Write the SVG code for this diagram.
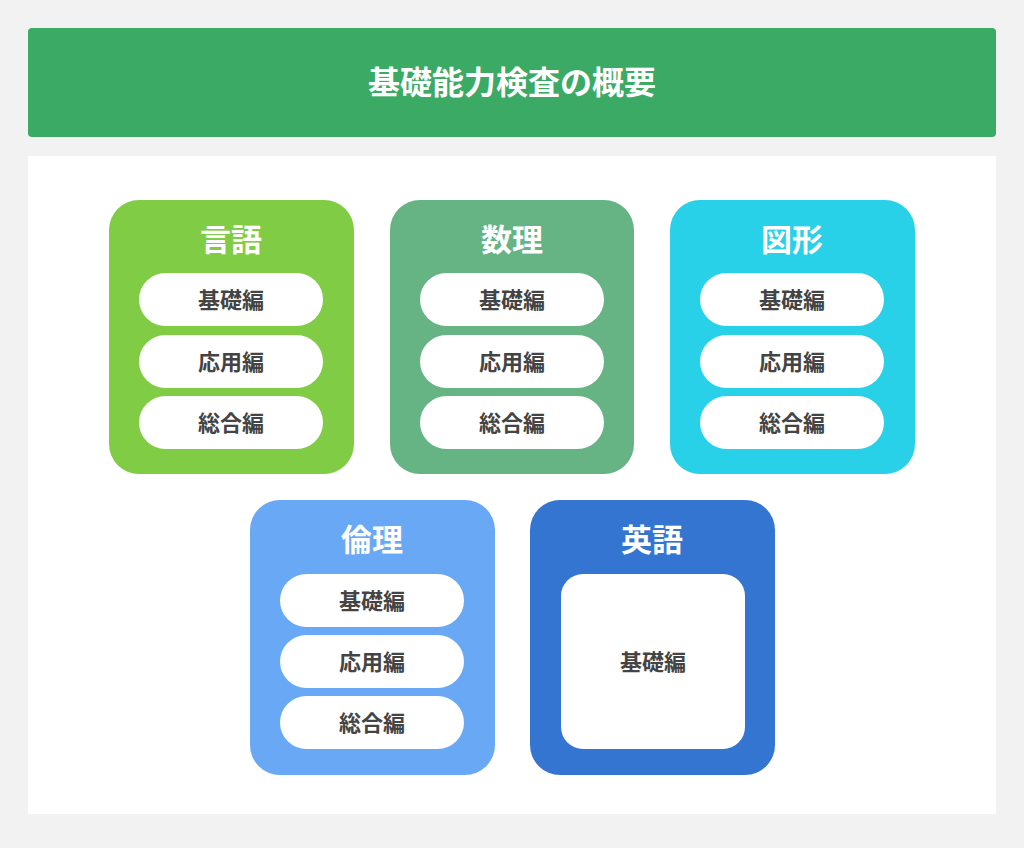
<svg xmlns="http://www.w3.org/2000/svg" width="1024" height="848" viewBox="0 0 1024 848">
<style>
text{font-family:"Noto Sans CJK JP","Noto Sans",sans-serif;font-weight:bold;text-anchor:middle}
.t{fill:#fff;font-size:31px}
.p{fill:#fff}
.l{fill:#444;font-size:22px}
</style>
<rect width="1024" height="848" fill="#f2f2f2"/>
<g id="header"><rect x="28" y="28" width="968" height="109" rx="4" fill="#3aaa64"/>
<text x="512" y="94" fill="#fff" font-size="32">基礎能力検査の概要</text></g>
<rect x="28" y="156" width="968" height="658" fill="#fff"/>
<g id="gengo"><rect x="109" y="200" width="245" height="274" rx="30" fill="#80cc44"/>
<text class="t" x="231" y="251">言語</text>
<rect class="p" x="139" y="273" width="184" height="53" rx="26.5"/><text class="l" x="231" y="308">基礎編</text>
<rect class="p" x="139" y="335" width="184" height="53" rx="26.5"/><text class="l" x="231" y="370">応用編</text>
<rect class="p" x="139" y="396" width="184" height="53" rx="26.5"/><text class="l" x="231" y="431">総合編</text></g>
<g id="suri"><rect x="390" y="200" width="244" height="274" rx="30" fill="#66b383"/>
<text class="t" x="512" y="251">数理</text>
<rect class="p" x="420" y="273" width="184" height="53" rx="26.5"/><text class="l" x="512" y="308">基礎編</text>
<rect class="p" x="420" y="335" width="184" height="53" rx="26.5"/><text class="l" x="512" y="370">応用編</text>
<rect class="p" x="420" y="396" width="184" height="53" rx="26.5"/><text class="l" x="512" y="431">総合編</text></g>
<g id="zukei"><rect x="670" y="200" width="245" height="274" rx="30" fill="#28d0e8"/>
<text class="t" x="792" y="251">図形</text>
<rect class="p" x="700" y="273" width="184" height="53" rx="26.5"/><text class="l" x="792" y="308">基礎編</text>
<rect class="p" x="700" y="335" width="184" height="53" rx="26.5"/><text class="l" x="792" y="370">応用編</text>
<rect class="p" x="700" y="396" width="184" height="53" rx="26.5"/><text class="l" x="792" y="431">総合編</text></g>
<g id="rinri"><rect x="250" y="500" width="245" height="275" rx="30" fill="#68a8f5"/>
<text class="t" x="372" y="551">倫理</text>
<rect class="p" x="280" y="574" width="184" height="53" rx="26.5"/><text class="l" x="372" y="609">基礎編</text>
<rect class="p" x="280" y="635" width="184" height="53" rx="26.5"/><text class="l" x="372" y="670">応用編</text>
<rect class="p" x="280" y="696" width="184" height="53" rx="26.5"/><text class="l" x="372" y="731">総合編</text></g>
<g id="eigo"><rect x="530" y="500" width="245" height="275" rx="30" fill="#3575d2"/>
<text class="t" x="652" y="551">英語</text>
<rect class="p" x="561" y="574" width="184" height="175" rx="22"/><text class="l" x="653" y="670">基礎編</text></g>
<g id="connectors"/>
</svg>
